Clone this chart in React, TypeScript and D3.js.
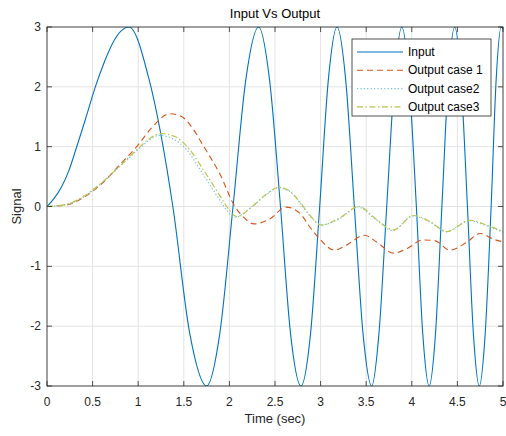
import React from "react";
import * as d3 from "d3";

// values
const inputTime = [
  0, 0.08, 0.16, 0.24, 0.32, 0.42, 0.53, 0.63, 0.72, 0.81, 0.9, 1.12, 1.38, 1.565, 1.75,
  1.895, 2.04, 2.18, 2.32, 2.44, 2.56, 2.67, 2.785, 2.89, 2.99, 3.085, 3.18, 3.275, 3.37,
  3.465, 3.56, 3.64, 3.725, 3.81, 3.89, 3.97, 4.05, 4.12, 4.19, 4.26, 4.33, 4.4, 4.47,
  4.54, 4.61, 4.675, 4.74, 4.805, 4.87, 4.925, 4.98, 5.0,
];
const inputSignal = [
  0, 0.14, 0.33, 0.6, 0.97, 1.45, 2.0, 2.42, 2.73, 2.93, 3, 2.12, 0, -2.12, -3,
  -2.12, 0, 2.12, 3, 2.12, 0, -2.12, -3, -2.12, 0, 2.12, 3, 2.12, 0,
  -2.12, -3, -2.12, 0, 2.12, 3, 2.12, 0, -2.12, -3, -2.12, 0, 2.12, 3,
  2.12, 0, -2.12, -3, -2.12, 0, 2.12, 3, 2.97,
];

const case1Time = [
  0, 0.2, 0.4, 0.6, 0.8, 1.0, 1.15, 1.35, 1.48, 1.6, 1.72, 1.9, 2.06, 2.15, 2.27, 2.45,
  2.62, 2.77, 2.9, 3.0, 3.15, 3.3, 3.48, 3.62, 3.8, 3.95, 4.12, 4.25, 4.42, 4.6, 4.75, 4.9, 5.0,
];
const case1Signal = [
  0, 0.02, 0.15, 0.38, 0.7, 1.03, 1.32, 1.55, 1.5, 1.3, 1.0, 0.53, 0.0, -0.17, -0.29, -0.2,
  -0.01, -0.11, -0.38, -0.56, -0.73, -0.63, -0.48, -0.6, -0.78, -0.7, -0.56, -0.57, -0.73, -0.6, -0.45, -0.55, -0.59,
];

const case2Time = [
  0, 0.2, 0.4, 0.6, 0.8, 1.0, 1.12, 1.23, 1.38, 1.5, 1.72, 1.88, 1.98, 2.06, 2.24, 2.4,
  2.53, 2.65, 2.77, 2.9, 3.0, 3.2, 3.41, 3.6, 3.79, 4.01, 4.2, 4.38, 4.63, 4.8, 5.0,
];
const case2Signal = [
  0, 0.03, 0.16, 0.39, 0.67, 0.95, 1.11, 1.19, 1.13, 1.0, 0.52, 0.14, -0.08, -0.18, -0.01, 0.19,
  0.31, 0.26, 0.07, -0.19, -0.31, -0.21, -0.01, -0.21, -0.4, -0.16, -0.26, -0.42, -0.24, -0.31, -0.43,
];

const case3Time = [
  0, 0.2, 0.4, 0.6, 0.8, 1.0, 1.12, 1.25, 1.4, 1.5, 1.75, 1.9, 2.0, 2.08, 2.25, 2.4,
  2.54, 2.65, 2.77, 2.9, 3.01, 3.2, 3.42, 3.6, 3.8, 4.02, 4.2, 4.38, 4.64, 4.8, 5.0,
];
const case3Signal = [
  0, 0.03, 0.17, 0.4, 0.68, 0.97, 1.13, 1.22, 1.17, 1.06, 0.53, 0.17, -0.06, -0.17, 0.0, 0.2,
  0.32, 0.27, 0.08, -0.18, -0.31, -0.2, 0.0, -0.2, -0.39, -0.15, -0.25, -0.42, -0.23, -0.3, -0.42,
];

const xTicks = [0, 0.5, 1, 1.5, 2, 2.5, 3, 3.5, 4, 4.5, 5];
const yTicks = [-3, -2, -1, 0, 1, 2, 3];
const seriesNames = ["Input", "Output case 1", "Output case2", "Output case3"];

const W = 506;
const H = 436;
const left = 47;
const right = 503;
const top = 27;
const bottom = 386;
const font = "'Liberation Sans', Arial, sans-serif";
const axisColor = "#262626";

const App = () => {
  const x = d3.scaleLinear().domain([0, 5]).range([left, right]);
  const y = d3.scaleLinear().domain([-3, 3]).range([bottom, top]);

  const mk = (ts: number[], vs: number[]) =>
    d3
      .line<number>()
      .x((_, i) => x(ts[i]))
      .y((v) => y(v))
      .curve(d3.curveMonotoneX)(vs) || "";

  const series = [
    { d: mk(inputTime, inputSignal), color: "#0072BD", dash: "none", w: 1.1 },
    { d: mk(case1Time, case1Signal), color: "#D95319", dash: "6,4", w: 1.1 },
    { d: mk(case2Time, case2Signal), color: "#6cc7dc", dash: "1.2,2.2", w: 1.2 },
    { d: mk(case3Time, case3Signal), color: "#bcc44a", dash: "6,2.5,1.5,2.5", w: 1.2 },
  ];

  const tickLen = 5;

  return (
    <svg
      width={W}
      height={H}
      style={{ position: "absolute", left: 0, top: 0, background: "#fff" }}
    >
      <defs>
        <clipPath id="plot">
          <rect x={left} y={top} width={right - left} height={bottom - top} />
        </clipPath>
      </defs>

      {/* grid */}
      {xTicks.map((t) => (
        <line key={"gx" + t} x1={x(t)} x2={x(t)} y1={top} y2={bottom} stroke="#e3e3e3" />
      ))}
      {yTicks.map((t) => (
        <line key={"gy" + t} y1={y(t)} y2={y(t)} x1={left} x2={right} stroke="#e3e3e3" />
      ))}

      {/* data */}
      <g clipPath="url(#plot)">
        {series.map((s, i) => (
          <path
            key={i}
            d={s.d}
            fill="none"
            stroke={s.color}
            strokeWidth={s.w}
            strokeDasharray={s.dash}
          />
        ))}
      </g>

      {/* box + ticks */}
      <rect
        x={left}
        y={top}
        width={right - left}
        height={bottom - top}
        fill="none"
        stroke={axisColor}
        strokeWidth={0.8}
      />
      {xTicks.map((t) => (
        <g key={"tx" + t} stroke={axisColor} strokeWidth={0.8}>
          <line x1={x(t)} x2={x(t)} y1={bottom} y2={bottom - tickLen} />
          <line x1={x(t)} x2={x(t)} y1={top} y2={top + tickLen} />
        </g>
      ))}
      {yTicks.map((t) => (
        <g key={"ty" + t} stroke={axisColor} strokeWidth={0.8}>
          <line y1={y(t)} y2={y(t)} x1={left} x2={left + tickLen} />
          <line y1={y(t)} y2={y(t)} x1={right} x2={right - tickLen} />
        </g>
      ))}

      {/* tick labels */}
      {xTicks.map((t) => (
        <text
          key={"lx" + t}
          x={x(t)}
          y={bottom + 20}
          textAnchor="middle"
          fontFamily={font}
          fontSize={12}
          fill={axisColor}
        >
          {t}
        </text>
      ))}
      {yTicks.map((t) => (
        <text
          key={"ly" + t}
          x={left - 6}
          y={y(t) + 4}
          textAnchor="end"
          fontFamily={font}
          fontSize={12}
          fill={axisColor}
        >
          {t}
        </text>
      ))}

      {/* titles */}
      <text
        x={(left + right) / 2}
        y={18}
        textAnchor="middle"
        fontFamily={font}
        fontSize={13}
        fill="#000"
      >
        Input Vs Output
      </text>
      <text
        x={(left + right) / 2}
        y={423}
        textAnchor="middle"
        fontFamily={font}
        fontSize={13}
        fill={axisColor}
      >
        Time (sec)
      </text>
      <text
        transform={`translate(21,${(top + bottom) / 2}) rotate(-90)`}
        textAnchor="middle"
        fontFamily={font}
        fontSize={13}
        fill={axisColor}
      >
        Signal
      </text>

      {/* legend */}
      <g>
        <rect x={352} y={39} width={139} height={77} fill="#fff" stroke={axisColor} strokeWidth={0.8} />
        {seriesNames.map((name, i) => {
          const ry = 52 + i * 18.3;
          return (
            <g key={name}>
              <line
                x1={357}
                x2={403}
                y1={ry}
                y2={ry}
                stroke={series[i].color}
                strokeWidth={series[i].w}
                strokeDasharray={series[i].dash}
              />
              <text x={408} y={ry + 4} fontFamily={font} fontSize={12} fill="#000">
                {name}
              </text>
            </g>
          );
        })}
      </g>
    </svg>
  );
};

export default App;
